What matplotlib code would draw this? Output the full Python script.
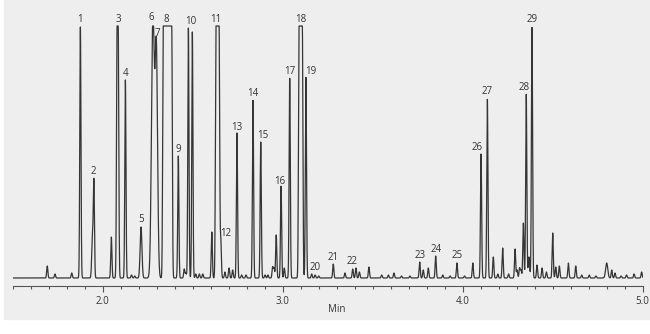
import numpy as np
import matplotlib
matplotlib.use("Agg")
from matplotlib import pyplot as plt
from matplotlib.patches import Rectangle

plt.rcParams['font.family'] = ['Open Sans', 'DejaVu Sans']

# peak table: retention time (min), height, plateau width (min), sigma (min)
peak_t = [1.692, 1.735, 1.828, 1.876, 1.943, 1.951, 2.048, 2.083, 2.126, 2.160, 2.178,
          2.213, 2.279, 2.298, 2.360, 2.420, 2.453, 2.462, 2.476, 2.498, 2.517, 2.537,
          2.556, 2.606, 2.638, 2.656, 2.679, 2.702, 2.722, 2.746, 2.772, 2.796, 2.835,
          2.878, 2.902, 2.918, 2.944, 2.952, 2.964, 2.991, 3.009, 3.039, 3.100, 3.129,
          3.161, 3.180, 3.200, 3.281, 3.346, 3.389, 3.407, 3.426, 3.479, 3.550, 3.587,
          3.618, 3.660, 3.707, 3.761, 3.781, 3.809, 3.850, 3.889, 3.930, 3.968, 4.010,
          4.056, 4.102, 4.137, 4.170, 4.195, 4.222, 4.255, 4.291, 4.302, 4.316, 4.324,
          4.337, 4.353, 4.368, 4.385, 4.413, 4.441, 4.465, 4.500, 4.517, 4.537, 4.587,
          4.628, 4.661, 4.703, 4.740, 4.800, 4.828, 4.846, 4.880, 4.910, 4.952, 4.994]
peak_h = [12, 4, 5, 251, 40, 94, 41, 252, 198, 3, 2,
          51, 262, 226, 252, 122, 9, 5, 250, 246, 4, 4,
          4, 46, 252, 38, 6, 10, 8, 145, 3, 3, 178,
          136, 3, 3, 11, 10, 43, 92, 10, 200, 252, 201,
          4, 3, 2, 14, 5, 9, 10, 6, 11, 3, 3,
          5, 2, 2, 16, 8, 10, 22, 3, 2, 15, 2,
          15, 124, 179, 21, 4, 30, 4, 29, 8, 10, 8,
          55, 184, 21, 251, 13, 10, 6, 45, 11, 12, 15,
          12, 3, 3, 2, 15, 8, 5, 2, 3, 4, 6]
peak_w = {2.083: 0.006, 2.360: 0.047, 2.638: 0.017, 3.100: 0.018}
peak_s = {1.943: 0.004, 2.213: 0.005, 2.279: 0.0078, 2.298: 0.0068, 4.800: 0.006, 4.368: 0.004}

# peak numbers and where they are printed
label_txt = [str(i) for i in range(1, 30)]
label_t = [1.874, 1.950, 2.085, 2.126, 2.213, 2.267, 2.303, 2.352, 2.420, 2.489,
           2.629, 2.685, 2.744, 2.833, 2.887, 2.985, 3.037, 3.100, 3.156, 3.179,
           3.278, 3.383, 3.763, 3.850, 3.967, 4.078, 4.133, 4.341, 4.383]
label_h = [258, 107, 258, 204, 58, 260, 245, 258, 129, 257,
           258, 45, 151, 184, 142, 97, 207, 258, 207, 10,
           20, 16, 22, 29, 22, 131, 186, 190, 258]

CLIP = 252

t = np.arange(1.5, 5.0005, 0.0004)
y = np.zeros_like(t)
for t0, h in zip(peak_t, peak_h):
    w = peak_w.get(t0, 0.0)
    s = peak_s.get(t0, 0.0032)
    d = np.maximum(np.abs(t - t0) - w / 2, 0)
    y += h * np.exp(-0.5 * (d / s) ** 2)
y = np.minimum(y, CLIP)

fig = plt.figure(figsize=(6.5, 3.34), dpi=100)
fig.patches.append(Rectangle((4 / 650, 1 - 319 / 334), 646 / 650, 319 / 334,
                             transform=fig.transFigure, color='#eeeeee', zorder=-10))

ax = fig.add_axes([12.7 / 650, (334 - 286) / 334, 630 / 650, (286 - 18) / 334])
ax.patch.set_visible(False)
ax.plot(t, y, color='#353535', lw=0.9)

for txt, lt, lh in zip(label_txt, label_t, label_h):
    ax.text(lt, lh, txt, ha='center', va='center', fontsize=7, color='#333333')

ax.set_xlim(1.5, 5.0)
ax.set_ylim(-8, 260)
for side in ['top', 'left', 'right']:
    ax.spines[side].set_visible(False)
ax.spines['bottom'].set_color('#555555')
ax.spines['bottom'].set_linewidth(0.8)
ax.set_yticks([])
ax.set_xticks([2.0, 3.0, 4.0, 5.0])
ax.set_xticklabels(['2.0', '3.0', '4.0', '5.0'])
ax.set_xticks(np.arange(1.5, 5.01, 0.1), minor=True)
ax.tick_params(axis='x', which='major', length=4.3, width=0.8, color='#555555',
               labelsize=7, labelcolor='#333333', pad=3)
ax.tick_params(axis='x', which='minor', length=2.4, width=0.8, color='#555555')

fig.text(337 / 650, 1 - 309 / 334, 'Min', ha='center', va='center', fontsize=7, color='#333333')

fig.savefig('out.png', dpi=100, facecolor='white')
